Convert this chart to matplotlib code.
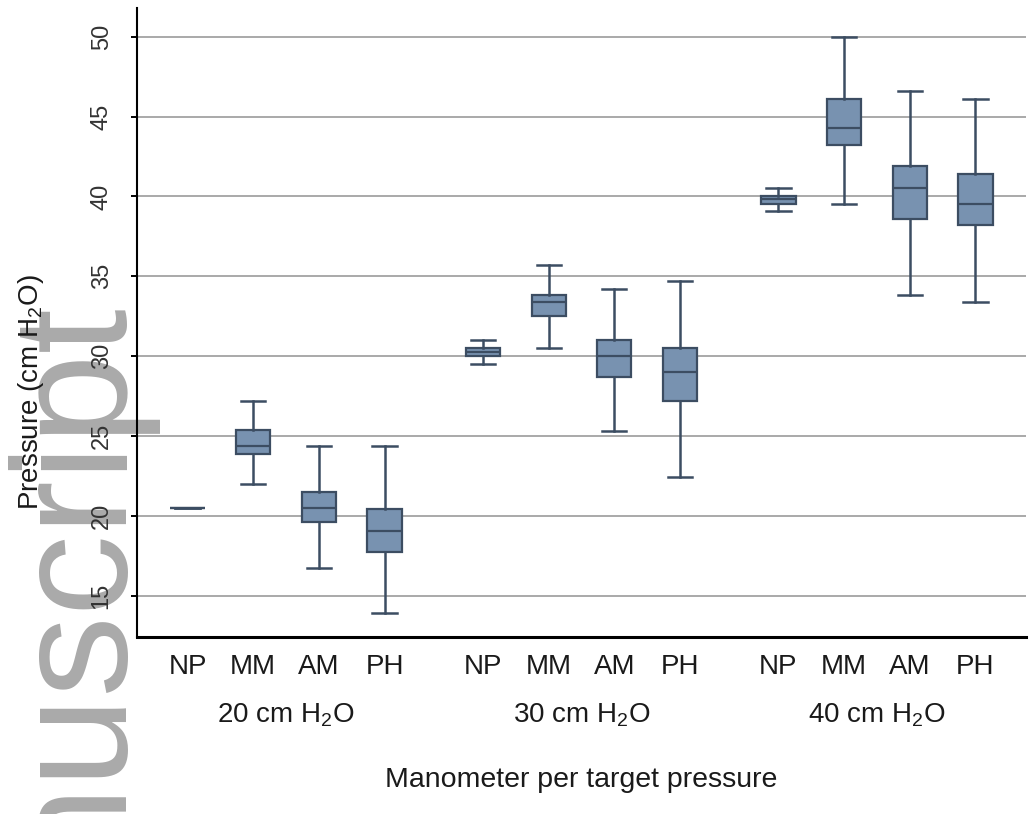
import matplotlib
matplotlib.use("Agg")
import matplotlib.pyplot as plt

# Target pressure groups and manometers
groups = ["20 cm H$_2$O", "30 cm H$_2$O", "40 cm H$_2$O"]
manometers = ["NP", "MM", "AM", "PH"]

# Box statistics, ordered NP MM AM PH per group (20, 30, 40 cm H2O)
whislo = [20.5, 22.0, 16.7, 13.9, 29.5, 30.5, 25.3, 22.4, 39.1, 39.5, 33.85, 33.4]
q1 = [20.5, 23.85, 19.6, 17.7, 30.0, 32.5, 28.7, 27.2, 39.5, 43.2, 38.6, 38.2]
med = [20.5, 24.35, 20.5, 19.05, 30.25, 33.4, 30.0, 29.0, 39.85, 44.3, 40.55, 39.55]
q3 = [20.5, 25.35, 21.5, 20.45, 30.5, 33.85, 31.0, 30.5, 40.05, 46.1, 41.9, 41.4]
whishi = [20.5, 27.2, 24.35, 24.35, 31.0, 35.7, 34.2, 34.7, 40.55, 50.0, 46.6, 46.1]

yticks = [15, 20, 25, 30, 35, 40, 45, 50]

BOX_FC = "#7892b0"
DARK = "#3c4d62"

plt.rcParams.update({
    "font.family": ["Liberation Sans", "DejaVu Sans"],
    "mathtext.default": "regular",
})

fig = plt.figure(figsize=(10.29, 8.14), dpi=100, facecolor="white")

# "Manuscript" watermark, drawn behind the axes
fig.text(0.113, -0.064, "nuscript", rotation=90, rotation_mode="anchor",
         ha="left", va="baseline", fontsize=117, color="#aaaaaa", zorder=-1)

ax = fig.add_axes([0.1331, 0.2174, 0.8640, 0.7726])
ax.set_facecolor("none")

n_per = len(manometers)
positions = [g * (n_per + 0.5) + i for g in range(len(groups)) for i in range(n_per)]
stats = [
    dict(whislo=lo, q1=a, med=m, q3=b, whishi=hi, fliers=[])
    for lo, a, m, b, hi in zip(whislo, q1, med, q3, whishi)
]

ax.bxp(
    stats, positions=positions, widths=0.52, capwidths=0.37,
    patch_artist=True, showfliers=False,
    boxprops=dict(facecolor=BOX_FC, edgecolor=DARK, linewidth=1.6),
    medianprops=dict(color=DARK, linewidth=1.6),
    whiskerprops=dict(color=DARK, linewidth=1.8),
    capprops=dict(color=DARK, linewidth=1.8),
)

ax.set_xlim(-0.77, positions[-1] + 0.77)
ax.set_ylim(12.4, 51.8)
ax.set_yticks(yticks)
ax.set_yticklabels([str(t) for t in yticks], rotation=90, va="center",
                   fontsize=17, color="#333333")
ax.grid(axis="y", color="#a3a3a3", linewidth=1.3, zorder=0)
ax.set_axisbelow(True)

ax.set_xticks(positions)
ax.set_xticklabels(manometers * len(groups), fontsize=20, color="#1a1a1a")
ax.tick_params(axis="x", length=0, pad=12)
ax.tick_params(axis="y", length=4.5, width=1.4, pad=13, direction="out")

for side in ("top", "right"):
    ax.spines[side].set_visible(False)
ax.spines["left"].set_linewidth(1.5)
ax.spines["bottom"].set_linewidth(2.2)

# Group labels under each set of manometers
for g, label in enumerate(groups):
    center = g * (n_per + 0.5) + (n_per - 1) / 2
    ax.text(center, -0.124, label, transform=ax.get_xaxis_transform(),
            ha="center", va="center", fontsize=20, color="#1a1a1a")

ax.text(0.5, -0.228, "Manometer per target pressure", transform=ax.transAxes,
        ha="center", va="center", fontsize=20.5, color="#1a1a1a")

ax.set_ylabel("Pressure (cm H$_2$O)", fontsize=20, color="#1a1a1a")
ax.yaxis.set_label_coords(-0.102, 0.39)

fig.savefig("out.png", dpi=100, facecolor="white")
